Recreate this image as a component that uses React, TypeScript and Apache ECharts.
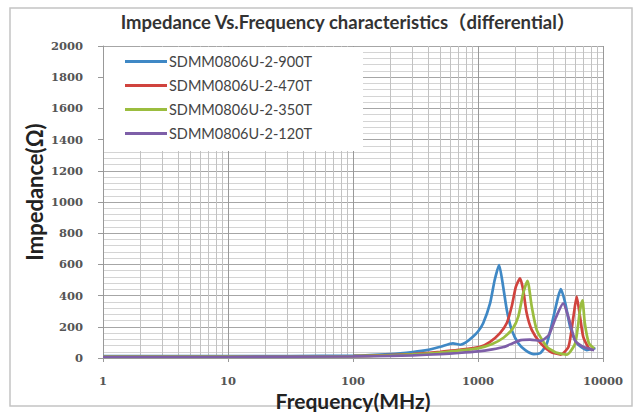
import React, { useEffect, useRef } from "react";
import * as echarts from "echarts";

const seriesNames = ["SDMM0806U-2-900T", "SDMM0806U-2-470T", "SDMM0806U-2-350T", "SDMM0806U-2-120T"];
const seriesColors = ["#3f88c5", "#d0433e", "#9bbd3f", "#7e5fa8"];

const data900T: [number, number][] = [
  [1, 12], [10, 12], [100, 15], [200, 25], [300, 38], [400, 52], [500, 72], [630, 94], [720, 85],
  [800, 100], [910, 136], [1000, 170], [1100, 223], [1250, 352], [1360, 500], [1475, 596], [1590, 457],
  [1700, 308], [1860, 180], [2100, 94], [2390, 51], [2800, 25], [3160, 32], [3560, 94], [4020, 265],
  [4380, 393], [4600, 442], [4990, 352], [5460, 200], [6160, 96], [7400, 51], [8700, 64],
];
const data470T: [number, number][] = [
  [1, 10], [10, 10], [100, 12], [200, 18], [300, 25], [500, 40], [700, 52], [1040, 72], [1250, 104],
  [1500, 160], [1700, 224], [1860, 330], [2010, 457], [2170, 510], [2300, 436], [2450, 288], [2690, 180],
  [3160, 96], [3800, 40], [4600, 22], [5300, 72], [5800, 265], [6160, 393], [6550, 265], [6950, 136],
  [7700, 64], [8500, 55],
];
const data350T: [number, number][] = [
  [1, 10], [10, 10], [100, 12], [200, 17], [300, 23], [500, 35], [700, 48], [1000, 62], [1300, 90],
  [1600, 130], [1900, 190], [2100, 265], [2300, 416], [2490, 495], [2690, 330], [2950, 180], [3560, 72],
  [4200, 35], [5150, 22], [6000, 96], [6550, 308], [6850, 370], [7150, 224], [7700, 96], [8500, 60],
];
const data120T: [number, number][] = [
  [1, 8], [10, 8], [100, 10], [200, 13], [300, 17], [500, 25], [700, 32], [1000, 42], [1300, 55],
  [1600, 70], [1900, 95], [2200, 115], [2600, 118], [3200, 110], [3700, 150], [4200, 260], [4800, 350],
  [5300, 260], [6000, 110], [7000, 70], [8500, 50],
];
const seriesData = [data900T, data470T, data350T, data120T];

const xTickLabels = ["1", "10", "100", "1000", "10000"];
const minorFreqs: number[] = [];
[1, 10, 100, 1000].forEach((d) => {
  for (let k = 2; k <= 9; k++) minorFreqs.push(k * d);
});

export default function App() {
  const ref = useRef<HTMLDivElement>(null);
  useEffect(() => {
    if (!ref.current) return;
    const chart = echarts.init(ref.current, null, { renderer: "svg" });
    const lines = seriesNames.map((name, i) => ({
      name,
      type: "line",
      data: seriesData[i],
      symbol: "none",
      smooth: 0.2,
      z: 3,
      lineStyle: { color: seriesColors[i], width: 2.7 },
      itemStyle: { color: seriesColors[i] },
    }));
    chart.setOption({
      animation: false,
      backgroundColor: "#fff",
      graphic: [
        {
          type: "rect",
          z: 0,
          shape: { x: 10, y: 8, width: 622, height: 398 },
          style: { fill: "none", stroke: "#c4c4c4", lineWidth: 1.5 },
          silent: true,
        },
        {
          type: "rect",
          z: 4,
          shape: { x: 104, y: 47, width: 259, height: 104 },
          style: { fill: "#fff" },
          silent: true,
        },
        {
          type: "text",
          x: 348,
          y: 22,
          style: {
            text: "Impedance Vs.Frequency characteristics（differential）",
            font: "bold 18.5px Lato, 'Noto Sans CJK SC'",
            fill: "#333",
            textAlign: "center",
            textVerticalAlign: "middle",
          },
        },
      ],
      legend: {
        data: seriesNames,
        orient: "vertical",
        left: 125,
        top: 54,
        padding: 0,
        icon: "path://M0,0H42V3H0Z",
        itemWidth: 42,
        itemHeight: 14,
        itemGap: 9,
        textStyle: { fontFamily: "Lato", fontSize: 14.5, color: "#444", padding: [0, 0, 0, -3] },
        z: 5,
      },
      grid: { left: 103, right: 37, top: 46, bottom: 54, outerBoundsMode: "none", containLabel: false },
      xAxis: {
        type: "log",
        logBase: 10,
        min: 1,
        max: 10000,
        name: "Frequency(MHz)",
        nameLocation: "middle",
        nameGap: 32,
        nameMoveOverlap: false,
        nameTextStyle: { fontFamily: "Lato", fontWeight: "bold", fontSize: 21, color: "#222", lineHeight: 21 },
        axisLine: { lineStyle: { color: "#999" } },
        axisTick: { show: true, length: 4, lineStyle: { color: "#999" } },
        axisLabel: {
          margin: 17,
          fontFamily: "'DejaVu Serif'",
          fontWeight: "bold",
          fontSize: 11.5,
          lineHeight: 12,
          color: "#555",
          formatter: (v: number) => {
            const idx = Math.round(Math.log10(v));
            return xTickLabels[idx] ?? String(v);
          },
        },
        splitLine: { show: true, lineStyle: { color: "#999", width: 1 } },
      },
      yAxis: {
        type: "value",
        min: 0,
        max: 2000,
        interval: 200,
        name: "Impedance(Ω)",
        nameLocation: "middle",
        nameGap: 58,
        nameMoveOverlap: false,
        nameTextStyle: { fontFamily: "Lato", fontWeight: "bold", fontSize: 22, color: "#222", padding: [0, 0, 0, 20] },
        axisLine: { show: true, lineStyle: { color: "#999" } },
        axisTick: { show: true, length: 5, lineStyle: { color: "#999" } },
        axisLabel: {
          margin: 20,
          fontFamily: "'DejaVu Serif'",
          fontWeight: "bold",
          fontSize: 11.5,
          color: "#555",
          formatter: (v: number) => String(v),
        },
        splitLine: { show: true, lineStyle: { color: "#a6a6a6", width: 1 } },
        minorTick: { show: false, splitNumber: 5 },
        minorSplitLine: { show: true, lineStyle: { color: "#d4d4d4", width: 1 } },
      },
      series: [
        {
          name: "grid-minor",
          type: "line",
          data: [],
          z: 1,
          silent: true,
          markLine: {
            silent: true,
            z: 1,
            symbol: "none",
            label: { show: false },
            lineStyle: { color: "#c2c2c2", width: 1, type: "solid" },
            data: minorFreqs.map((f) => ({ xAxis: f })),
          },
        },
        ...lines,
      ],
    });
    return () => chart.dispose();
  }, []);
  return (
    <div
      ref={ref}
      style={{ position: "absolute", left: 0, top: 0, width: 640, height: 412 }}
    />
  );
}
